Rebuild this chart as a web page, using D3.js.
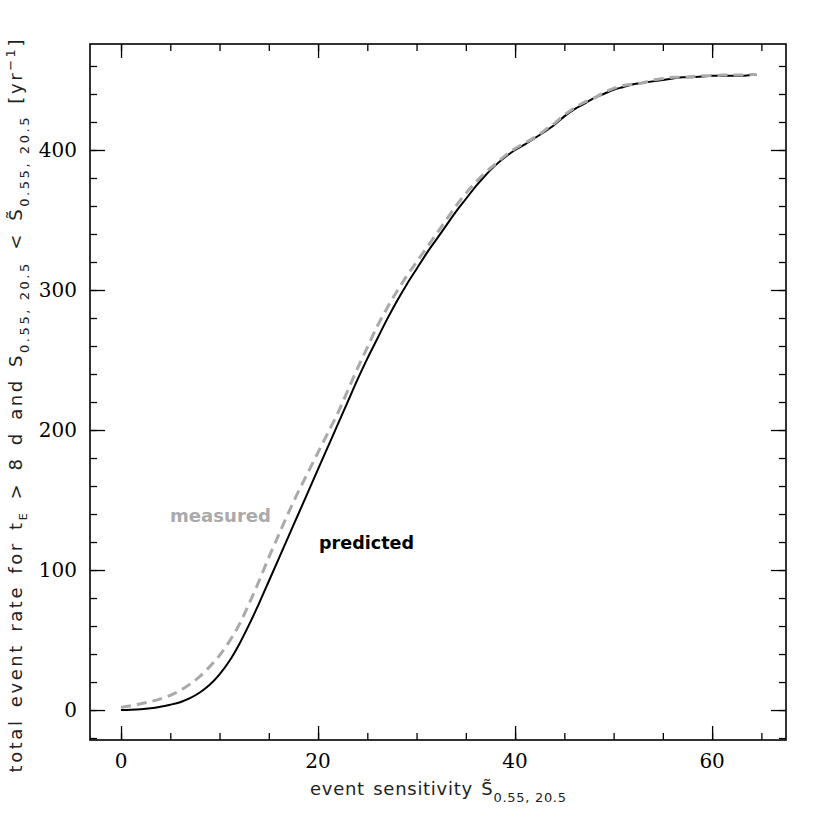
<!DOCTYPE html>
<html>
<head>
<meta charset="utf-8">
<script src="https://cdn.jsdelivr.net/npm/d3@7"></script>
<style>
  body { margin: 0; background: #fff; }
  svg { display: block; }
</style>
</head>
<body>
<div id="chart"></div>
<script>
// event sensitivity values (x) shared by both curves
const sensitivity = [0,1,2,3,4,5,6,7,8,9,10,11,12,13,14,15,16,17,18,19,20,21,22,23,24,25,26,27,28,29,30,31,32,33,34,35,36,37,38,39,40,41,42,43,44,45,46,47,48,49,50,51,52,53,54,55,56,57,58,59,60,61,62,63,64,64.5];

// predicted cumulative rate (black, solid)
const predicted = [0,0.2,0.6,1.3,2.4,3.8,5.6,8.5,12.5,18,25.5,35,47,61,76,92,108,124,140,156,172,188,204,220,236,251,265,279,292,304,315,326,336,346,356,365,374,382,389,395,400,404,408.5,413,418,424,429,433,437,440,443,445,447,448,449,450,451,452,452,452.5,453,453,453,453,453.5,453.5];

// measured cumulative rate (grey, dashed)
const measured = [2,3,4.5,6,8,10.5,14,18.5,24,31,39,49,61,76,92,109,125,141,156,170,184,198,212,228,244,259,274,287,299,310,320,330,340,350,360,369,377,384,390,396,401,405,409,414,419,425,430,434,437,441,444,446,447,448,450,451,452,452,452.5,453,453,453.5,453.5,453.5,454,454];

const xMajor = [0, 20, 40, 60];
const xMinor = d3.range(0, 66, 5);
const yMajor = [0, 100, 200, 300, 400];
const yMinor = d3.range(-20, 461, 20);

const W = 830, H = 830;
const plot = { left: 90, right: 786, top: 44, bottom: 740 };

const svg = d3.select("#chart").append("svg")
    .attr("width", W)
    .attr("height", H);

const x = d3.scaleLinear().domain([-3.15, 67.5]).range([plot.left, plot.right]);
const y = d3.scaleLinear().domain([-21.4, 475.7]).range([plot.bottom, plot.top]);

const predData = sensitivity.map((s, i) => ({ s: s, v: predicted[i] }));
const measData = sensitivity.map((s, i) => ({ s: s, v: measured[i] }));

const line = d3.line()
    .x(d => x(d.s))
    .y(d => y(d.v))
    .curve(d3.curveMonotoneX);

// curves
svg.append("path")
    .datum(predData)
    .attr("d", line)
    .attr("fill", "none")
    .attr("stroke", "#000")
    .attr("stroke-width", 2);

svg.append("path")
    .datum(measData)
    .attr("d", line)
    .attr("fill", "none")
    .attr("stroke", "#aaaaaa")
    .attr("stroke-width", 3)
    .attr("stroke-dasharray", "10,6");

// ticks on all four sides, pointing inward
function tickAxis(axis, values, len, tx, ty) {
    const g = svg.append("g")
        .attr("transform", `translate(${tx},${ty})`)
        .call(axis.tickValues(values).tickSize(-len).tickFormat(""));
    g.select(".domain").remove();
    g.selectAll(".tick line").attr("stroke", "#000").attr("stroke-width", 1.3);
    return g;
}
tickAxis(d3.axisBottom(x), xMinor, 7, 0, plot.bottom);
tickAxis(d3.axisBottom(x), xMajor, 14, 0, plot.bottom);
tickAxis(d3.axisTop(x), xMinor, 7, 0, plot.top);
tickAxis(d3.axisTop(x), xMajor, 14, 0, plot.top);
tickAxis(d3.axisLeft(y), yMinor, 7, plot.left, 0);
tickAxis(d3.axisLeft(y), yMajor, 15, plot.left, 0);
tickAxis(d3.axisRight(y), yMinor, 7, plot.right, 0);
tickAxis(d3.axisRight(y), yMajor, 15, plot.right, 0);

// frame
svg.append("rect")
    .attr("x", plot.left)
    .attr("y", plot.top)
    .attr("width", plot.right - plot.left)
    .attr("height", plot.bottom - plot.top)
    .attr("fill", "none")
    .attr("stroke", "#000")
    .attr("stroke-width", 1.6);

// tick labels
const tickFont = "'DejaVu Serif', serif";
svg.append("g").selectAll("text")
    .data(xMajor)
    .join("text")
    .attr("x", d => x(d))
    .attr("y", 768)
    .attr("text-anchor", "middle")
    .attr("font-family", tickFont)
    .attr("font-size", 20)
    .text(d => d);

svg.append("g").selectAll("text")
    .data(yMajor)
    .join("text")
    .attr("x", 77)
    .attr("y", d => y(d) + 7)
    .attr("text-anchor", "end")
    .attr("font-family", tickFont)
    .attr("font-size", 20)
    .text(d => d);

// axis titles
const titleFont = "'DejaVu Sans', sans-serif";

const xt = svg.append("text")
    .attr("x", 438)
    .attr("y", 795)
    .attr("text-anchor", "middle")
    .attr("font-family", titleFont)
    .attr("font-size", 18)
    .attr("fill", "#222")
    .attr("word-spacing", 2)
    .attr("textLength", 256)
    .attr("lengthAdjust", "spacing");
xt.append("tspan").text("event sensitivity S\u0303");
xt.append("tspan").attr("font-size", 13).attr("dy", 7).attr("word-spacing", 0).text("0.55, 20.5");

const yt = svg.append("text")
    .attr("transform", "translate(22,406) rotate(-90)")
    .attr("text-anchor", "middle")
    .attr("font-family", titleFont)
    .attr("font-size", 18)
    .attr("fill", "#222")
    .attr("word-spacing", 3)
    .attr("textLength", 733)
    .attr("lengthAdjust", "spacing");
yt.append("tspan").text("total event rate for t");
yt.append("tspan").attr("font-size", 11).attr("dy", 5).text("E");
yt.append("tspan").attr("dy", -5).text(" > 8 d and S");
yt.append("tspan").attr("font-size", 13).attr("dy", 7).attr("word-spacing", 0).text("0.55, 20.5");
yt.append("tspan").attr("dy", -7).text(" < S\u0303");
yt.append("tspan").attr("font-size", 13).attr("dy", 7).attr("word-spacing", 0).text("0.55, 20.5");
yt.append("tspan").attr("dy", -7).text(" [yr");
yt.append("tspan").attr("font-size", 13).attr("dy", -7).text("\u22121");
yt.append("tspan").attr("dy", 7).text("]");

// curve labels
svg.append("text")
    .attr("x", 170)
    .attr("y", 522)
    .attr("font-family", titleFont)
    .attr("font-weight", "bold")
    .attr("font-size", 17)
    .attr("fill", "#aaaaaa")
    .attr("textLength", 101)
    .attr("lengthAdjust", "spacingAndGlyphs")
    .text("measured");

svg.append("text")
    .attr("x", 319)
    .attr("y", 549)
    .attr("font-family", titleFont)
    .attr("font-weight", "bold")
    .attr("font-size", 17)
    .attr("fill", "#000")
    .attr("textLength", 95)
    .attr("lengthAdjust", "spacingAndGlyphs")
    .text("predicted");
</script>
</body>
</html>
